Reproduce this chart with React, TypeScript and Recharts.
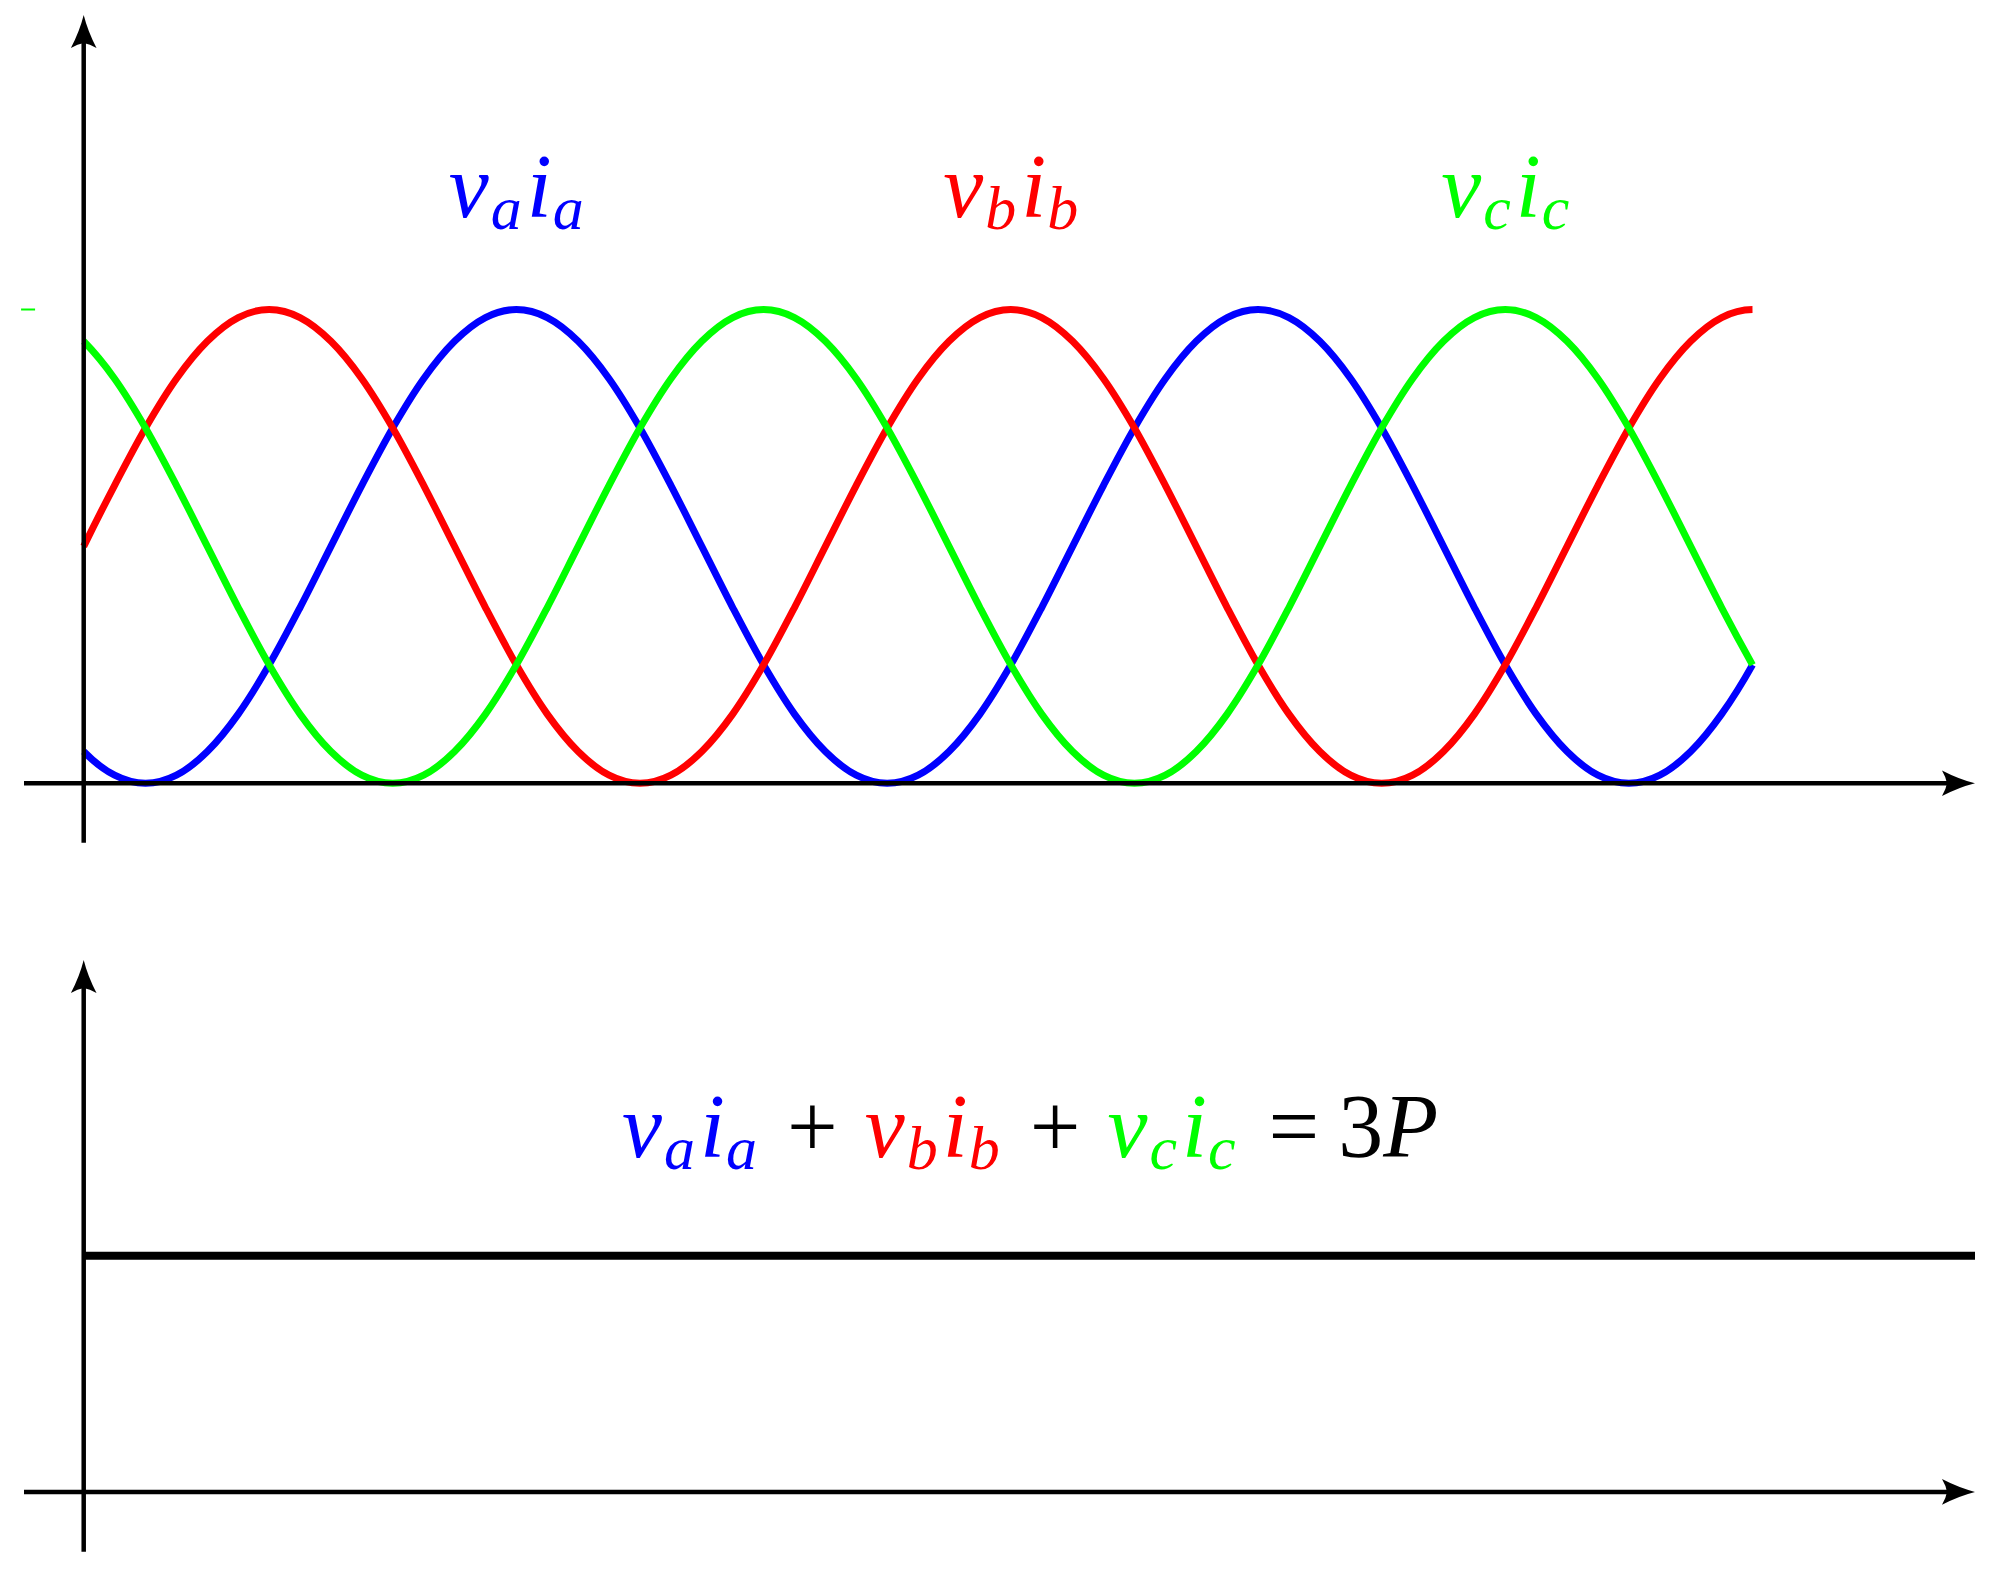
import React from 'react';
import { LineChart, Line, XAxis, YAxis, ReferenceLine, ReferenceDot } from 'recharts';

// phase angle (deg), sampled every 7.5 deg from 0 to 405
const theta = [
  0, 7.5, 15, 22.5, 30, 37.5, 45, 52.5, 60, 67.5, 75, 82.5, 90, 97.5, 105, 112.5, 120, 127.5, 135, 142.5,
  150, 157.5, 165, 172.5, 180, 187.5, 195, 202.5, 210, 217.5, 225, 232.5, 240, 247.5, 255, 262.5, 270, 277.5,
  285, 292.5, 300, 307.5, 315, 322.5, 330, 337.5, 345, 352.5, 360, 367.5, 375, 382.5, 390, 397.5, 405,
];
// instantaneous power per phase, normalised to peak
const pa = [
  0.067, 0.017, 0, 0.017, 0.067, 0.146, 0.25, 0.371, 0.5, 0.629, 0.75, 0.854, 0.933, 0.983, 1, 0.983, 0.933, 0.854, 0.75, 0.629,
  0.5, 0.371, 0.25, 0.146, 0.067, 0.017, 0, 0.017, 0.067, 0.146, 0.25, 0.371, 0.5, 0.629, 0.75, 0.854, 0.933, 0.983,
  1, 0.983, 0.933, 0.854, 0.75, 0.629, 0.5, 0.371, 0.25, 0.146, 0.067, 0.017, 0, 0.017, 0.067, 0.146, 0.25,
];
const pb = [
  0.5, 0.629, 0.75, 0.854, 0.933, 0.983, 1, 0.983, 0.933, 0.854, 0.75, 0.629, 0.5, 0.371, 0.25, 0.146, 0.067, 0.017, 0, 0.017,
  0.067, 0.146, 0.25, 0.371, 0.5, 0.629, 0.75, 0.854, 0.933, 0.983, 1, 0.983, 0.933, 0.854, 0.75, 0.629, 0.5, 0.371,
  0.25, 0.146, 0.067, 0.017, 0, 0.017, 0.067, 0.146, 0.25, 0.371, 0.5, 0.629, 0.75, 0.854, 0.933, 0.983, 1,
];
const pc = [
  0.933, 0.854, 0.75, 0.629, 0.5, 0.371, 0.25, 0.146, 0.067, 0.017, 0, 0.017, 0.067, 0.146, 0.25, 0.371, 0.5, 0.629, 0.75, 0.854,
  0.933, 0.983, 1, 0.983, 0.933, 0.854, 0.75, 0.629, 0.5, 0.371, 0.25, 0.146, 0.067, 0.017, 0, 0.017, 0.067, 0.146,
  0.25, 0.371, 0.5, 0.629, 0.75, 0.854, 0.933, 0.983, 1, 0.983, 0.933, 0.854, 0.75, 0.629, 0.5, 0.371, 0.25,
];

// total power (bottom panel)
const sumTheta = [0, 459];
const sumP = [1.5, 1.5];

const phaseSubs = ['a', 'b', 'c'];
const phaseColors = ['#0000ff', '#ff0000', '#00ff00'];
const labelTheta = [105, 225, 345];
const labelLevel = 1.196;
const sumLabelTheta = 229.7;
const sumLabelLevel = 2.128;

const X_DOMAIN: [number, number] = [-14.49, 459];
const TOP_Y: [number, number] = [-0.1254, 1.6216];
const BOT_Y: [number, number] = [-0.38, 3.38];

const topData = theta.map((t, i) => ({ theta: t, pa: pa[i], pb: pb[i], pc: pc[i] }));
const sumData = sumTheta.map((t, i) => ({ theta: t, p: sumP[i] }));

const FONT = 'Liberation Serif, serif';

// cubic hermite curve (central-difference tangents, 3-point tangents at the ends)
// so the curve does not flatten out at the ends like the natural spline does
const smoothCurve = (context: any) => {
  let xs: number[] = [];
  let ys: number[] = [];
  return {
    areaStart() {},
    areaEnd() {},
    lineStart() { xs = []; ys = []; },
    point(x: number, y: number) { xs.push(+x); ys.push(+y); },
    lineEnd() {
      const n = xs.length;
      if (!n) return;
      context.moveTo(xs[0], ys[0]);
      if (n < 3) { if (n === 2) context.lineTo(xs[1], ys[1]); return; }
      const m: number[] = new Array(n);
      for (let i = 1; i < n - 1; i++) m[i] = (ys[i + 1] - ys[i - 1]) / (xs[i + 1] - xs[i - 1]);
      m[0] = (-3 * ys[0] + 4 * ys[1] - ys[2]) / (2 * (xs[1] - xs[0]));
      m[n - 1] = (3 * ys[n - 1] - 4 * ys[n - 2] + ys[n - 3]) / (2 * (xs[n - 1] - xs[n - 2]));
      for (let i = 0; i < n - 1; i++) {
        const h = xs[i + 1] - xs[i];
        context.bezierCurveTo(xs[i] + h / 3, ys[i] + (m[i] * h) / 3, xs[i + 1] - h / 3, ys[i + 1] - (m[i + 1] * h) / 3, xs[i + 1], ys[i + 1]);
      }
    },
  };
};

// axis line with a stealth-like arrow head at (x2, y2)
const ArrowLine = (props: any) => {
  const { x1, y1, x2, y2 } = props;
  const ang = Math.atan2(y2 - y1, x2 - x1);
  const back = 22;
  return (
    <g>
      <line x1={x1} y1={y1} x2={x2 - back * Math.cos(ang)} y2={y2 - back * Math.sin(ang)} stroke="#000" strokeWidth={4.5} />
      <path
        d="M0,0 Q-16,-4 -33,-12.8 Q-29,-6 -28,0 Q-29,6 -33,12.8 Q-16,4 0,0 Z"
        transform={`translate(${x2},${y2}) rotate(${(ang * 180) / Math.PI})`}
        fill="#000"
      />
    </g>
  );
};

type Piece = { t: string; c: string; sub?: boolean; up?: boolean; dx?: number };

const phasePieces = (k: number): Piece[] => [
  { t: 'v', c: phaseColors[k] },
  { t: phaseSubs[k], c: phaseColors[k], sub: true, dx: 2 },
  { t: 'i', c: phaseColors[k], dx: 5 },
  { t: phaseSubs[k], c: phaseColors[k], sub: true, dx: 1 },
];

const MathText = ({ x, y, pieces }: { x: number; y: number; pieces: Piece[] }) => {
  let low = false;
  return (
    <text x={x} y={y} textAnchor="middle" fontFamily={FONT} fontSize={90}>
      {pieces.map((p, i) => {
        let dy = 0;
        if (p.sub && !low) { dy = 12; low = true; }
        else if (!p.sub && low) { dy = -12; low = false; }
        return (
          <tspan key={i} dx={p.dx ?? 0} dy={dy} fill={p.c} fontSize={p.sub ? 62 : 90} fontStyle={p.up ? 'normal' : 'italic'}>
            {p.t}
          </tspan>
        );
      })}
    </text>
  );
};

const sumPieces: Piece[] = [
  ...phasePieces(0),
  { t: '+', c: '#000', up: true, dx: 30 },
  { ...phasePieces(1)[0], dx: 27 },
  ...phasePieces(1).slice(1),
  { t: '+', c: '#000', up: true, dx: 30 },
  { ...phasePieces(2)[0], dx: 27 },
  ...phasePieces(2).slice(1),
  { t: '=', c: '#000', up: true, dx: 33 },
  { t: '3', c: '#000', up: true, dx: 19 },
  { t: 'P', c: '#000' },
];

export default function App() {
  return (
    <div style={{ position: 'absolute', left: 0, top: 0, width: 1997, height: 1571, background: '#fff' }}>
      <div style={{ position: 'absolute', left: 0, top: 0 }}>
        <LineChart width={1997} height={860} data={topData} margin={{ top: 15, right: 22, bottom: 17.3, left: 24 }}>
          <XAxis type="number" dataKey="theta" domain={X_DOMAIN} allowDataOverflow hide />
          <YAxis type="number" domain={TOP_Y} allowDataOverflow hide />
          <Line type={smoothCurve as any} dataKey="pa" stroke={phaseColors[0]} strokeWidth={7} dot={false} activeDot={false} isAnimationActive={false} />
          <Line type={smoothCurve as any} dataKey="pb" stroke={phaseColors[1]} strokeWidth={7} dot={false} activeDot={false} isAnimationActive={false} />
          <Line type={smoothCurve as any} dataKey="pc" stroke={phaseColors[2]} strokeWidth={7} dot={false} activeDot={false} isAnimationActive={false} />
          <ReferenceLine segment={[{ x: X_DOMAIN[0], y: 0 }, { x: X_DOMAIN[1], y: 0 }]} shape={ArrowLine} ifOverflow="visible" />
          <ReferenceLine segment={[{ x: 0, y: TOP_Y[0] }, { x: 0, y: TOP_Y[1] }]} shape={ArrowLine} ifOverflow="visible" />
          <ReferenceLine segment={[{ x: -15.2, y: 1 }, { x: -11.8, y: 1 }]} stroke={phaseColors[2]} strokeWidth={2} ifOverflow="visible" />
          {labelTheta.map((t, k) => (
            <ReferenceDot
              key={k}
              x={t}
              y={labelLevel}
              ifOverflow="visible"
              shape={(p: any) => <MathText x={p.cx} y={p.cy} pieces={phasePieces(k)} />}
            />
          ))}
        </LineChart>
      </div>
      <div style={{ position: 'absolute', left: 0, top: 900 }}>
        <LineChart width={1997} height={671} data={sumData} margin={{ top: 60, right: 22, bottom: 19.3, left: 24 }}>
          <XAxis type="number" dataKey="theta" domain={X_DOMAIN} allowDataOverflow hide />
          <YAxis type="number" domain={BOT_Y} allowDataOverflow hide />
          <Line type="linear" dataKey="p" stroke="#000" strokeWidth={8} dot={false} activeDot={false} isAnimationActive={false} />
          <ReferenceLine segment={[{ x: X_DOMAIN[0], y: 0 }, { x: X_DOMAIN[1], y: 0 }]} shape={ArrowLine} ifOverflow="visible" />
          <ReferenceLine segment={[{ x: 0, y: BOT_Y[0] }, { x: 0, y: BOT_Y[1] }]} shape={ArrowLine} ifOverflow="visible" />
          <ReferenceDot
            x={sumLabelTheta}
            y={sumLabelLevel}
            ifOverflow="visible"
            shape={(p: any) => <MathText x={p.cx} y={p.cy} pieces={sumPieces} />}
          />
        </LineChart>
      </div>
    </div>
  );
}
